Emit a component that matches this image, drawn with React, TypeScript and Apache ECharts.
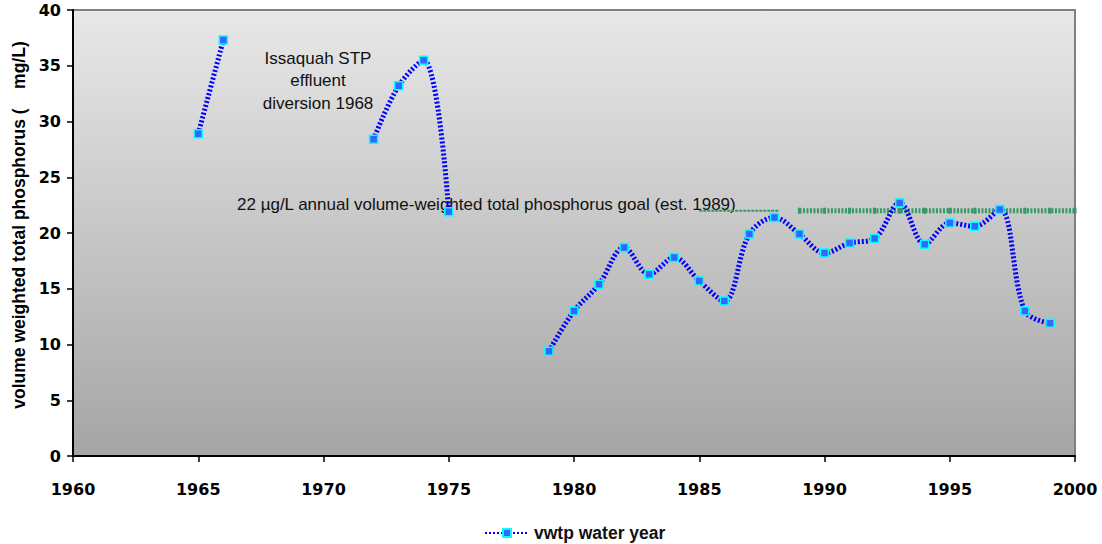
import React, { useEffect, useRef } from "react";
import * as echarts from "echarts";

const years = [1965, 1966, 1967, 1968, 1969, 1970, 1971, 1972, 1973, 1974, 1975, 1976, 1977, 1978, 1979, 1980, 1981, 1982, 1983, 1984, 1985, 1986, 1987, 1988, 1989, 1990, 1991, 1992, 1993, 1994, 1995, 1996, 1997, 1998, 1999];
const vwtp: (number | null)[] = [28.9, 37.3, null, null, null, null, null, 28.4, 33.2, 35.5, 21.9, null, null, null, 9.4, 13.0, 15.4, 18.7, 16.3, 17.8, 15.7, 13.9, 19.9, 21.4, 19.9, 18.2, 19.1, 19.5, 22.7, 19.0, 20.9, 20.6, 22.1, 13.0, 11.9];
const goalYears = [1989, 1990, 1991, 1992, 1993, 1994, 1995, 1996, 1997, 1998, 1999, 2000];
const goalValue = 22;
const goalLeadYears = [1985, 1988.2];
const seriesName = "vwtp water year";
const yAxisName = "volume weighted total phosphorus (    mg/L)";
const annotation1 = "Issaquah STP\neffluent\ndiversion 1968";
const annotation2 = "22 \u00b5g/L annual volume-weighted total phosphorus goal (est. 1989)";

const FONT = "Arial, 'Liberation Sans', sans-serif";
const TICK_FONT = "'DejaVu Sans', Arial, sans-serif";

export default function App() {
  const ref = useRef<HTMLDivElement>(null);
  useEffect(() => {
    document.body.style.margin = "0";
    if (!ref.current) return;
    const chart = echarts.init(ref.current, undefined, { renderer: "svg" });
    const mainData = years.map((y, i) => [y, vwtp[i] === null ? "-" : vwtp[i]]);
    const goalData = goalYears.map((y) => [y, goalValue]);
    const leadData = goalLeadYears.map((y) => [y, goalValue]);
    chart.setOption({
      animation: false,
      textStyle: { fontFamily: FONT },
      grid: {
        left: 73,
        right: 27,
        top: 10,
        bottom: 88,
        show: true,
        borderColor: "#808080",
        borderWidth: 2,
        backgroundColor: new echarts.graphic.LinearGradient(0, 0, 0, 1, [
          { offset: 0, color: "#e8e8e8" },
          { offset: 1, color: "#a5a5a5" },
        ]),
      },
      legend: {
        show: true,
        data: [seriesName],
        bottom: -3,
        left: 479,
        itemWidth: 44,
        itemHeight: 10,
        itemGap: 4,
        textStyle: { fontWeight: "bold", fontSize: 17.5, color: "#111", fontFamily: FONT },
      },
      xAxis: {
        type: "value",
        min: 1960,
        max: 2000,
        interval: 5,
        splitLine: { show: false },
        axisLine: { show: true, onZero: false, lineStyle: { color: "#000", width: 2 } },
        axisTick: { show: true, inside: false, length: 6, lineStyle: { color: "#000", width: 1.5 } },
        axisLabel: {
          fontWeight: "bold",
          fontSize: 16,
          color: "#000",
          margin: 25,
          fontFamily: TICK_FONT,
          formatter: (v: number) => String(v),
        },
      },
      yAxis: {
        type: "value",
        min: 0,
        max: 40,
        interval: 5,
        splitLine: { show: false },
        axisLine: { show: true, lineStyle: { color: "#000", width: 2 } },
        axisTick: { show: true, length: 6, lineStyle: { color: "#000", width: 1.5 } },
        axisLabel: { fontWeight: "bold", fontSize: 16, color: "#000", margin: 12, fontFamily: TICK_FONT },
      },
      series: [
        {
          name: seriesName,
          type: "line",
          data: mainData,
          connectNulls: false,
          smooth: 0.35,
          smoothConstraint: false,
          symbol: "rect",
          symbolSize: 8,
          showAllSymbol: true,
          lineStyle: { color: "#0000ff", width: 5, type: [2, 2] },
          itemStyle: { color: "#3366ff", borderColor: "#00ffff", borderWidth: 1.5 },
          z: 3,
        },
        {
          name: "goal",
          type: "line",
          data: goalData,
          symbol: "rect",
          symbolSize: [3, 6],
          lineStyle: { color: "#339966", width: 5, type: [2, 1.5] },
          itemStyle: { color: "#339966" },
          z: 2,
        },
        {
          name: "goalLead",
          type: "line",
          data: leadData,
          symbol: "none",
          lineStyle: { color: "#339966", width: 2, type: [3, 1] },
          z: 2,
        },
      ],
      graphic: [
        {
          type: "text",
          x: 19,
          y: 225,
          rotation: Math.PI / 2,
          style: {
            text: yAxisName,
            fontSize: 17.5,
            fontWeight: "bold",
            fill: "#000",
            align: "center",
            verticalAlign: "middle",
            fontFamily: FONT,
          },
        },
        {
          type: "text",
          x: 318,
          y: 47,
          style: {
            text: annotation1,
            fontSize: 17,
            lineHeight: 22.5,
            fill: "#111",
            align: "center",
            fontFamily: FONT,
          },
        },
        {
          type: "text",
          x: 237,
          y: 196,
          style: {
            text: annotation2,
            fontSize: 17,
            fill: "#111",
            fontFamily: FONT,
          },
        },
      ],
    });
    return () => chart.dispose();
  }, []);
  return <div ref={ref} style={{ width: 1102, height: 544 }} />;
}
